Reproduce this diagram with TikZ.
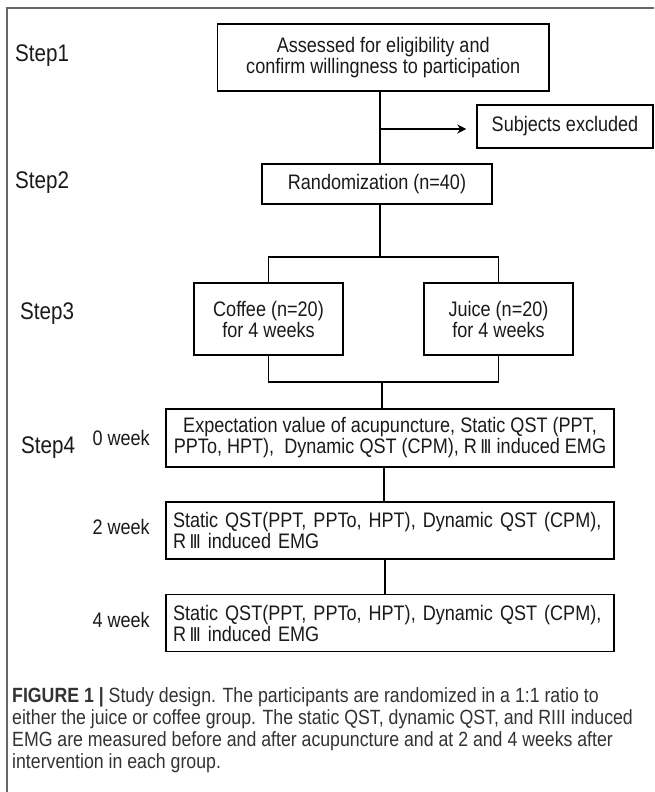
\documentclass[tikz,border=0pt]{standalone}
\usepackage{fontspec}
\setmainfont{Liberation Sans}[FakeStretch=0.86]
\newfontfamily\numfont{DejaVu Sans}[FakeStretch=0.86]
\usetikzlibrary{arrows.meta,calc}
\definecolor{txt}{HTML}{1A1A1A}
\definecolor{capgray}{HTML}{333333}
\definecolor{framegray}{HTML}{666666}
\newcommand{\RIII}{R\,{\numfont\fontsize{19}{19}\selectfont Ⅲ}}
\begin{document}
\begin{tikzpicture}[x=1pt,y=-1pt,
  box/.style={draw=black, line width=1.5pt, fill=white, inner sep=0pt, text=txt,
    font=\fontsize{21}{21}\selectfont},
  conn/.style={line width=1.5pt, draw=black},
  steplabel/.style={anchor=west, inner sep=0pt, text=txt, font=\fontsize{24}{26}\selectfont},
  weeklabel/.style={anchor=east, inner sep=0pt, text=txt, font=\fontsize{21}{22}\selectfont},
  captext/.style={anchor=base west, inner sep=0pt, text=capgray, font=\fontsize{20.6}{22}\selectfont}]
\useasboundingbox (0,0) rectangle (654,792);
\fill[white] (0,0) rectangle (654,792);
\draw[framegray, line width=1.5pt] (7,792) -- (7,8) -- (654,8);

% step labels
\node[steplabel] (s1) at (15,56) {Step1};
\node[steplabel] (s2) at (15,183) {Step2};
\node[steplabel] (s3) at (20,314) {Step3};
\node[steplabel] (s4) at (21,448) {Step4};

% boxes
\node[box, minimum width=331.5pt, minimum height=67pt, align=center] (assess) at (383.25,57.5)
  {Assessed for eligibility and\\confirm willingness to participation};
\node[box, minimum width=176pt, minimum height=43pt] (excl) at (565,126.5) {Subjects excluded};
\node[box, minimum width=230pt, minimum height=40pt] (rand) at (377,184) {Randomization (n=40)};
\node[box, minimum width=149pt, minimum height=72pt, align=center] (coffee) at (268.5,319)
  {Coffee (n=20)\\for 4 weeks};
\node[box, minimum width=149pt, minimum height=72pt, align=center] (juice) at (498.5,319)
  {Juice (n=20)\\for 4 weeks};
\node[box, minimum width=448pt, minimum height=58pt, align=center] (w0) at (390,438)
  {Expectation value of acupuncture, Static QST (PPT,\\PPTo, HPT),\ \ Dynamic QST (CPM), \RIII\ induced EMG};
\node[box, text width=434pt, inner xsep=7pt, minimum height=57pt, align=left] (w2) at (390,530.5)
  {Static QST(PPT, PPTo, HPT), Dynamic QST (CPM),\\\RIII\ induced EMG};
\node[box, text width=434pt, inner xsep=7pt, minimum height=57pt, align=left] (w4) at (390,623)
  {Static QST(PPT, PPTo, HPT), Dynamic QST (CPM),\\\RIII\ induced EMG};

% week labels
\node[weeklabel] (k0) at (150,438) {0 week};
\node[weeklabel] (k2) at (150,527) {2 week};
\node[weeklabel] (k4) at (150,620) {4 week};

% connectors
\coordinate (c1) at (380,129);
\draw[conn] (assess.south -| c1) -- (rand.north -| c1);
\draw[conn, -{Stealth[length=9pt, width=9pt]}] (c1) -- ($(excl.west |- c1)+(-10,0)$);
\coordinate (sp) at (380,257);
\draw[conn] (rand.south -| sp) -- (sp);
\draw[conn] (coffee.north) |- (sp) -| (juice.north);
\coordinate (mg) at (382,382);
\draw[conn] (coffee.south) |- (mg) -| (juice.south);
\draw[conn] (mg) -- (w0.north -| mg);
\coordinate (l2) at (384,0);
\draw[conn] (w0.south -| l2) -- (w2.north -| l2);
\coordinate (l4) at (385,0);
\draw[conn] (w2.south -| l4) -- (w4.north -| l4);

% caption
\node[captext] (cap1) at (12,702) {\textbf{FIGURE 1 |} Study design. The participants are randomized in a 1:1 ratio to};
\node[captext] (cap2) at (12,724) {either the juice or coffee group. The static QST, dynamic QST, and RIII induced};
\node[captext] (cap3) at (12,746) {EMG are measured before and after acupuncture and at 2 and 4 weeks after};
\node[captext] (cap4) at (12,768) {intervention in each group.};
\end{tikzpicture}
\end{document}
